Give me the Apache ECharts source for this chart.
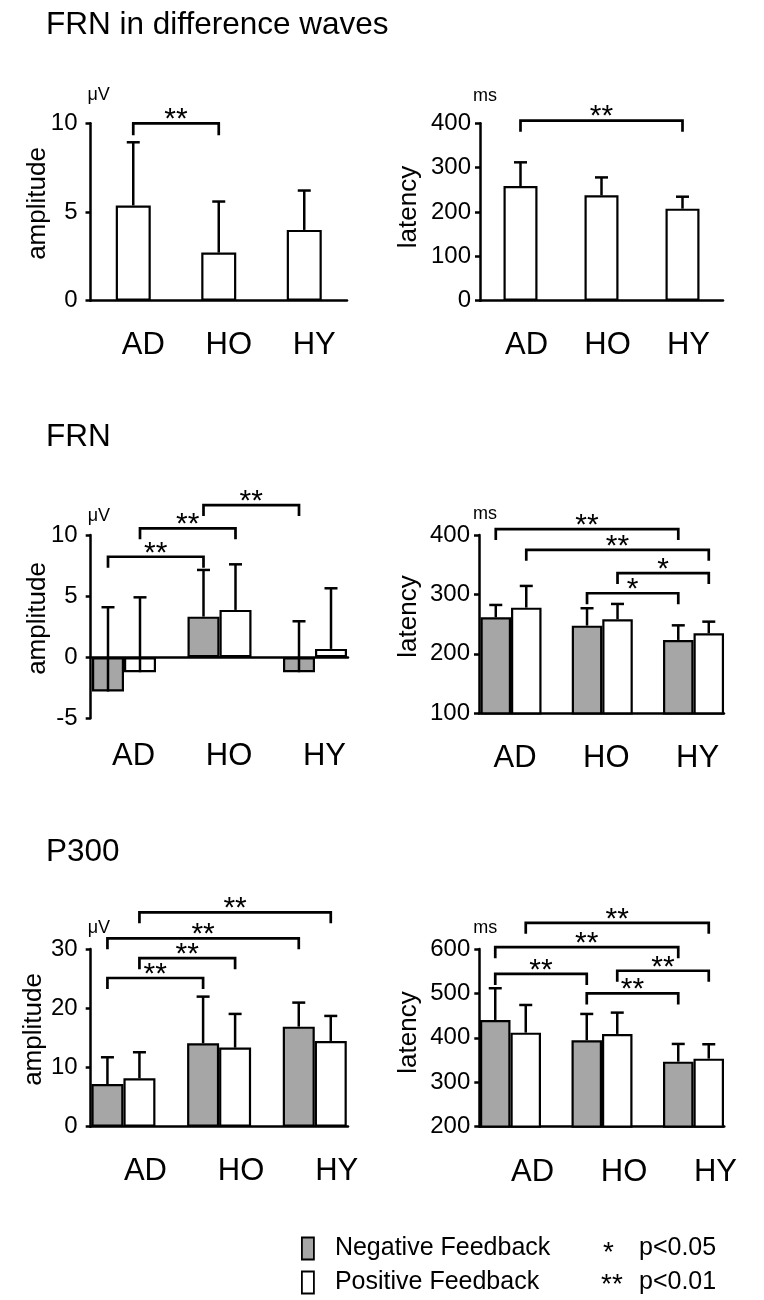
<!DOCTYPE html>
<html><head><meta charset="utf-8">
<script src="https://cdn.jsdelivr.net/npm/echarts@6/dist/echarts.min.js"></script>
<style>html,body{margin:0;padding:0;background:#fff}#c{width:764px;height:1300px}</style>
</head><body><div id="c"></div>
<script>
const FONT = '"Liberation Sans", Arial, Helvetica, sans-serif';
const categories = ['AD', 'HO', 'HY'];
const seriesNames = ['Negative Feedback', 'Positive Feedback'];

// FRN in difference waves
const diffAmpMean = [5.37, 2.71, 3.99];
const diffAmpSD   = [3.56, 2.88, 2.22];
const diffAmpTicks = [0, 5, 10];
const diffLatMean = [258.6, 237.6, 207.5];
const diffLatSD   = [53.4, 40.4, 27.0];
const diffLatTicks = [0, 100, 200, 300, 400];

// FRN
const frnAmpNeg   = [-2.81, 3.32, -1.23];
const frnAmpNegSD = [6.90, 3.82, 4.17];
const frnAmpPos   = [-1.23, 3.87, 0.68];
const frnAmpPosSD = [6.13, 3.73, 4.96];
const frnAmpTicks = [-5, 0, 5, 10];
const frnLatNeg   = [261.6, 247.5, 223.4];
const frnLatNegSD = [20.7, 29.3, 24.6];
const frnLatPos   = [277.8, 258.2, 234.7];
const frnLatPosSD = [36.5, 25.8, 19.5];
const frnLatTicks = [100, 200, 300, 400];

// P300
const p300AmpNeg   = [7.21, 14.09, 16.89];
const p300AmpNegSD = [4.51, 7.87, 4.06];
const p300AmpPos   = [8.17, 13.35, 14.48];
const p300AmpPosSD = [4.40, 5.69, 4.22];
const p300AmpTicks = [0, 10, 20, 30];
const p300LatNeg   = [440.3, 394.6, 346.4];
const p300LatNegSD = [71.4, 59.2, 39.9];
const p300LatPos   = [411.7, 408.8, 353.2];
const p300LatPosSD = [62.3, 48.0, 32.4];
const p300LatTicks = [200, 300, 400, 500, 600];

// significance brackets: [fromCategory, fromSeries, toCategory, toSeries, level]
const diffAmpSig = [[0,0,1,0,10.0]];
const diffAmpSigLabels = ['**'];
const diffLatSig = [[0,0,2,0,406]];
const diffLatSigLabels = ['**'];
const frnAmpSig = [[0,0,1,0,8.22],[0,1,1,1,10.55],[1,0,2,0,12.45]];
const frnAmpSigLabels = ['**','**','**'];
const frnLatSig = [[0,0,2,0,410],[0,1,2,1,375],[1,1,2,1,336],[1,0,2,0,302]];
const frnLatSigLabels = ['**','**','*','*'];
const p300AmpSig = [[0,0,1,0,25.1],[0,1,1,1,28.45],[0,0,2,0,31.8],[0,1,2,1,36.2]];
const p300AmpSigLabels = ['**','**','**','**'];
const p300LatSig = [[0,0,1,0,544],[1,0,2,0,500],[1,1,2,1,551],[0,0,2,0,604],[0,1,2,1,659]];
const p300LatSigLabels = ['**','**','**','**','**'];

const GRAY = '#a6a6a6';

const panels = [
  {frame:[90.5,123.3,256.5,177.4], bars:[90.5,256.5], ticks:diffAmpTicks, unit:'μV', unitGap:19, unitPad:-3, tickMargin:13,
   series:[{name:'FRN difference', mean:diffAmpMean, sd:diffAmpSD, color:'#fff'}], bw:35, labelMargin:29, labelDx:10,
   sig:diffAmpSig, sigLabels:diffAmpSigLabels, sigTick:12},
  {frame:[480,123.3,243,177.4], bars:[480,243], ticks:diffLatTicks, unit:'ms', unitGap:18, unitPad:-7, tickMargin:9,
   series:[{name:'FRN difference latency', mean:diffLatMean, sd:diffLatSD, color:'#fff'}], bw:34, labelMargin:29, labelDx:6,
   sig:diffLatSig, sigLabels:diffLatSigLabels, sigTick:11},
  {frame:[90.7,535,257.3,183.3], bars:[76.25,286.5], ticks:frnAmpTicks, unit:'μV', unitGap:10, unitPad:-3, tickMargin:13,
   series:[{name:seriesNames[0], mean:frnAmpNeg, sd:frnAmpNegSD, color:GRAY},{name:seriesNames[1], mean:frnAmpPos, sd:frnAmpPosSD, color:'#fff'}],
   bw:32, labelMargin:23, labelDx:9.5, sig:frnAmpSig, sigLabels:frnAmpSigLabels, sigTick:11},
  {frame:[479,535,245,178.3], bars:[465.4,273.75], ticks:frnLatTicks, unit:'ms', unitGap:11, unitPad:-6, tickMargin:9,
   series:[{name:seriesNames[0], mean:frnLatNeg, sd:frnLatNegSD, color:GRAY},{name:seriesNames[1], mean:frnLatPos, sd:frnLatPosSD, color:'#fff'}],
   bw:30.5, labelMargin:30, labelDx:4, sig:frnLatSig, sigLabels:frnLatSigLabels, sigTick:11},
  {frame:[90.7,949,257.3,177.7], bars:[75.6,287], ticks:p300AmpTicks, unit:'μV', unitGap:11.5, unitPad:-3, tickMargin:13,
   series:[{name:seriesNames[0], mean:p300AmpNeg, sd:p300AmpNegSD, color:GRAY},{name:seriesNames[1], mean:p300AmpPos, sd:p300AmpPosSD, color:'#fff'}],
   bw:32, labelMargin:29.5, labelDx:22, sig:p300AmpSig, sigLabels:p300AmpSigLabels, sigTick:11},
  {frame:[479.3,949,245,177.7], bars:[464.75,274.5], ticks:p300LatTicks, unit:'ms', unitGap:11.5, unitPad:-6, tickMargin:9,
   series:[{name:seriesNames[0], mean:p300LatNeg, sd:p300LatNegSD, color:GRAY},{name:seriesNames[1], mean:p300LatPos, sd:p300LatPosSD, color:'#fff'}],
   bw:30.5, labelMargin:30.5, labelDx:22, sig:p300LatSig, sigLabels:p300LatSigLabels, sigTick:11}
];

const grids = [], xAxes = [], yAxes = [], series = [];

function offsetFor(n, s, bw) { return n === 1 ? 0 : (s - (n - 1) / 2) * bw; }

panels.forEach(p => {
  const fi = grids.length;
  grids.push({left:p.frame[0], top:p.frame[1], width:p.frame[2], height:p.frame[3], containLabel:false});
  const bi = grids.length;
  grids.push({left:p.bars[0], top:p.frame[1], width:p.bars[1], height:p.frame[3], containLabel:false});
  const t = p.ticks;
  const yBase = {type:'value', min:t[0], max:t[t.length-1], interval:t[1]-t[0]};
  xAxes.push({gridIndex:fi, type:'category', data:categories,
    axisLine:{show:true, onZero:true, lineStyle:{color:'#000', width:2.5}},
    axisTick:{show:false}, axisLabel:{show:false}, splitLine:{show:false}});
  yAxes.push(Object.assign({gridIndex:fi}, yBase, {
    axisLine:{show:true, lineStyle:{color:'#000', width:2.5}},
    axisTick:{show:true, length:5, lineStyle:{color:'#000', width:2.5}},
    axisLabel:{color:'#000', fontSize:24, fontFamily:FONT, margin:p.tickMargin},
    splitLine:{show:false},
    name:p.unit, nameLocation:'end', nameGap:p.unitGap,
    nameTextStyle:{color:'#000', fontSize:18, fontFamily:FONT, align:'left', padding:[0,0,0,p.unitPad]}
  }));
  xAxes.push({gridIndex:bi, type:'category', data:categories,
    axisLine:{show:false, onZero:false}, axisTick:{show:false}, splitLine:{show:false},
    axisLabel:{color:'#000', fontSize:31, fontFamily:FONT, margin:p.labelMargin, padding:[0,0,0,2*p.labelDx]}});
  yAxes.push(Object.assign({gridIndex:bi}, yBase, {show:false}));

  const n = p.series.length;
  p.series.forEach(s => {
    series.push({type:'bar', name:s.name, xAxisIndex:bi, yAxisIndex:bi, data:s.mean,
      barWidth:p.bw, barGap:'0%', silent:true, animation:false,
      itemStyle:{color:s.color, borderColor:'#000', borderWidth:2.2},
      emphasis:{disabled:true}});
  });
  p.series.forEach((s, si) => {
    const off = offsetFor(n, si, p.bw);
    series.push({type:'custom', name:s.name + ' SD', xAxisIndex:bi, yAxisIndex:bi, silent:true, animation:false, z:5,
      data:s.mean.map((m, i) => [i, m, s.sd[i]]),
      renderItem:(params, api) => {
        const c = api.value(0), m = api.value(1), sd = api.value(2);
        const p0 = api.coord([c, m]), p1 = api.coord([c, m + sd]);
        const x = p0[0] + off, cap = 13;
        return {type:'group', children:[
          {type:'line', shape:{x1:x, y1:p0[1], x2:x, y2:p1[1]}, style:{stroke:'#000', lineWidth:2.5}},
          {type:'line', shape:{x1:x - cap/2, y1:p1[1], x2:x + cap/2, y2:p1[1]}, style:{stroke:'#000', lineWidth:2.5}}
        ]};
      }});
  });
  series.push({type:'custom', name:'significance', xAxisIndex:bi, yAxisIndex:bi, silent:true, animation:false, z:6, clip:false,
    data:p.sig,
    renderItem:(params, api) => {
      const c1 = api.value(0), s1 = api.value(1), c2 = api.value(2), s2 = api.value(3), lv = api.value(4);
      const a = api.coord([c1, lv]), b = api.coord([c2, lv]);
      const x1 = a[0] + offsetFor(n, s1, p.bw), x2 = b[0] + offsetFor(n, s2, p.bw), yy = a[1];
      const lab = p.sigLabels[params.dataIndex];
      return {type:'group', children:[
        {type:'polyline', shape:{points:[[x1, yy + p.sigTick],[x1, yy],[x2, yy],[x2, yy + p.sigTick]]},
         style:{stroke:'#000', lineWidth:2.7, fill:null}},
        {type:'text', x:(x1 + x2) / 2, y:yy - 3.5,
         style:{text:lab, font:'30px ' + FONT, fill:'#000', align:'center', verticalAlign:'middle', textAlign:'center', textVerticalAlign:'middle'}}
      ]};
    }});
});

function txt(text, x, y, size, opts) {
  return Object.assign({type:'text', x:x, y:y, silent:true,
    style:{text:text, font:size + 'px ' + FONT, fill:'#000', align:'left', verticalAlign:'middle', textAlign:'left', textVerticalAlign:'middle'}}, opts || {});
}
function rot(text, x, y) {
  return {type:'text', x:x, y:y, rotation:Math.PI/2, silent:true,
    style:{text:text, font:'26px ' + FONT, fill:'#000', align:'center', verticalAlign:'middle', textAlign:'center', textVerticalAlign:'middle'}};
}

const graphics = [
  txt('FRN in difference waves', 46, 25, 31.5),
  txt('FRN', 46, 437.5, 31.5),
  txt('P300', 46, 852, 31.5),
  rot('amplitude', 38, 203.5),
  rot('latency', 409, 207),
  rot('amplitude', 38, 618.5),
  rot('latency', 409, 616.5),
  rot('amplitude', 34, 1029.5),
  rot('latency', 409, 1032.5),
  txt('*', 603, 1253, 28),
  txt('p<0.05', 639, 1248, 25),
  txt('**', 601, 1285, 28),
  txt('p<0.01', 639, 1282, 25)
];

const chart = echarts.init(document.getElementById('c'), null, {renderer:'canvas'});
chart.setOption({
  animation:false,
  backgroundColor:'#fff',
  textStyle:{fontFamily:FONT},
  grid:grids, xAxis:xAxes, yAxis:yAxes, series:series,
  legend:{data:seriesNames, orient:'vertical', left:301, top:1236, padding:0, itemGap:9,
    icon:'rect', itemWidth:12, itemHeight:22, selectedMode:false,
    itemStyle:{borderColor:'#000', borderWidth:1.8},
    textStyle:{color:'#000', fontSize:25, fontFamily:FONT, padding:[0,0,0,16]}},
  graphic:graphics
});
</script>
</body></html>
